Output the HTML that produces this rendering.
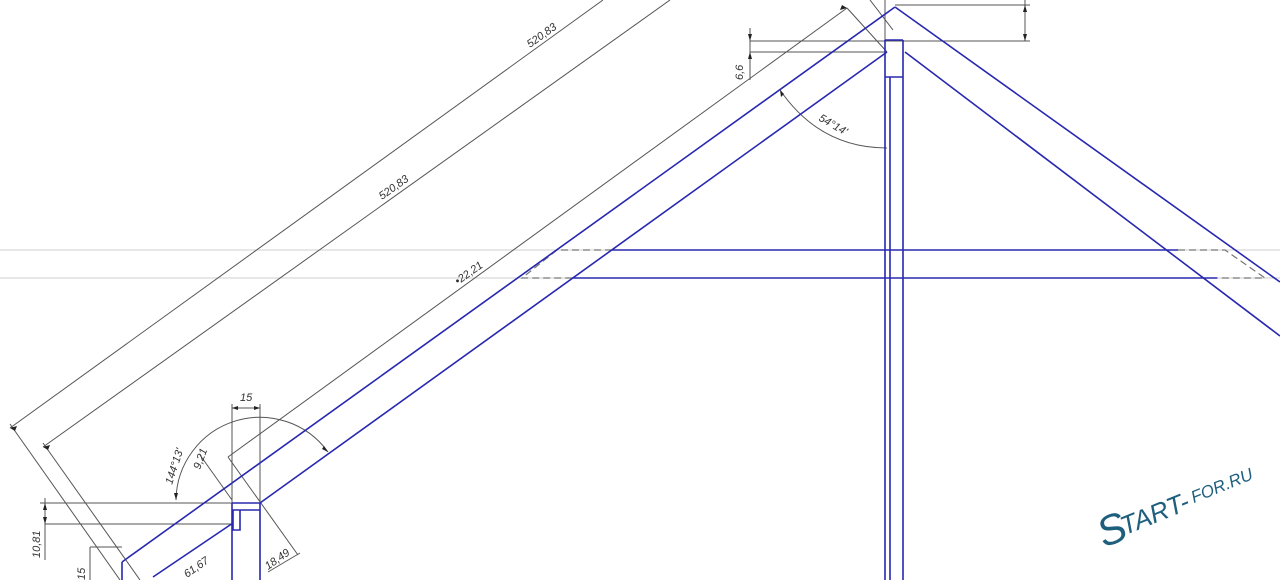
<!DOCTYPE html>
<html><head><meta charset="utf-8"><style>
html,body{margin:0;padding:0;background:#fff;}
svg{display:block;}
text{font-family:"Liberation Sans",sans-serif;font-style:italic;fill:#333;font-size:11px;}
</style></head><body>
<svg width="1280" height="580" viewBox="0 0 1280 580" xmlns="http://www.w3.org/2000/svg">
<g stroke="#cfcfcf" stroke-width="1">
<line x1="0" y1="250" x2="1280" y2="250"/>
<line x1="0" y1="278" x2="1280" y2="278"/>
</g>
<g stroke="#555" stroke-width="1" fill="none">
<line x1="10" y1="428" x2="603" y2="0"/>
<line x1="10" y1="424" x2="120" y2="580"/>
<line x1="43" y1="447" x2="670" y2="0"/>
<line x1="43" y1="443" x2="140" y2="580"/>
<line x1="228" y1="457" x2="847" y2="8"/>
<line x1="228" y1="457" x2="298" y2="555"/>
<line x1="847" y1="8" x2="887" y2="52"/>
<line x1="870" y1="0" x2="893" y2="30"/>
<line x1="885" y1="0" x2="885" y2="40"/>
<line x1="750" y1="41" x2="1030" y2="41"/>
<line x1="750" y1="52" x2="885" y2="52"/>
<line x1="750" y1="28" x2="750" y2="80"/>
<line x1="895" y1="5" x2="1030" y2="5"/>
<line x1="1025" y1="0" x2="1025" y2="41"/>
<path d="M780,90 Q820,148 887,148"/>
<line x1="232" y1="404" x2="232" y2="503"/>
<line x1="260" y1="404" x2="260" y2="503"/>
<line x1="232" y1="408" x2="260" y2="408"/>
<path d="M176,500 A84,84 0 0 1 328,452"/>
<line x1="40" y1="503" x2="232" y2="503"/>
<line x1="45" y1="524" x2="232" y2="524"/>
<line x1="45" y1="498" x2="45" y2="560"/>
<line x1="90" y1="547" x2="122" y2="547"/>
<line x1="90" y1="547" x2="90" y2="580"/>
<line x1="200" y1="455" x2="232" y2="500"/>
<line x1="268" y1="572" x2="300" y2="553"/>
</g>
<g fill="#222">
<path d="M10,428 l7,-2 l-2,5z"/>
<path d="M43,447 l7,-2 l-2,5z"/>
<path d="M847,8 l-7,2 l2,-5z"/>
<path d="M750,41 l-2,-7 h4z"/>
<path d="M750,52 l-2,7 h4z"/>
<path d="M1025,5 l-2,7 h4z"/>
<path d="M1025,41 l-2,-7 h4z"/>
<path d="M232,408 l6,-2 v4z"/>
<path d="M260,408 l-6,-2 v4z"/>
<path d="M45,503 l-2,7 h4z"/>
<path d="M45,524 l-2,-7 h4z"/>
<path d="M780,90 l1,7 l3,-3z"/>
<path d="M176,500 l-2,-7 h4z"/>
<path d="M328,452 l-6,-3 l2,-3z"/>
</g>
<g stroke="#777" stroke-width="1.2" stroke-dasharray="7,4" fill="none">
<path d="M612,250 H557 L522,278 H572"/>
<path d="M1178,250 H1225 L1265,278 H1217"/>
</g>
<g stroke="#2828b0" stroke-width="1.6" fill="none">
<line x1="122" y1="562" x2="895" y2="7"/>
<line x1="260" y1="503" x2="887" y2="52"/>
<line x1="153" y1="577" x2="233" y2="523"/>
<line x1="122" y1="562" x2="122" y2="580"/>
<line x1="895" y1="7" x2="1280" y2="282"/>
<line x1="905" y1="52" x2="1280" y2="336"/>
<line x1="612" y1="250" x2="1178" y2="250"/>
<line x1="572" y1="278" x2="1217" y2="278"/>
<line x1="885" y1="40" x2="885" y2="580"/>
<line x1="903" y1="40" x2="903" y2="580"/>
<line x1="890" y1="77" x2="890" y2="580"/>
<line x1="885" y1="40" x2="903" y2="40"/>
<line x1="885" y1="77" x2="903" y2="77"/>
<line x1="232" y1="503" x2="232" y2="580"/>
<line x1="260" y1="503" x2="260" y2="580"/>
<line x1="232" y1="503" x2="260" y2="503"/>
<line x1="232" y1="510" x2="260" y2="510"/>
<path d="M233,510 V530 H240 V510"/>
</g>
<text transform="translate(530,48) rotate(-35.5)">520,83</text>
<text transform="translate(382,200) rotate(-35.5)">520,83</text>
<text transform="translate(458,285) rotate(-35.5)">•22,21</text>
<text transform="translate(743,80) rotate(-90)">6,6</text>
<text transform="translate(818,120) rotate(30)">54°14'</text>
<text x="240" y="401" font-size="10">15</text>
<text transform="translate(172,485) rotate(-72)" font-size="10">144°13'</text>
<text transform="translate(200,470) rotate(-70)" font-size="10">9,21</text>
<text transform="translate(40,558) rotate(-90)" font-size="10">10,81</text>
<text transform="translate(85,580) rotate(-90)" font-size="10">15</text>
<text transform="translate(187,578) rotate(-35)" font-size="10">61,67</text>
<text transform="translate(268,570) rotate(-35)" font-size="10">18,49</text>
<g transform="translate(1104,548) rotate(-22)">
<text x="0" y="0" style="font-size:42px;fill:#1e5f7d;font-style:italic">S</text>
<text x="24" y="-4" style="font-size:26px;fill:#1e5f7d;font-style:italic">TART-</text>
<text x="100" y="-8" style="font-size:17px;fill:#1e5f7d;font-style:italic">FOR.RU</text>
</g>
</svg>
</body></html>
